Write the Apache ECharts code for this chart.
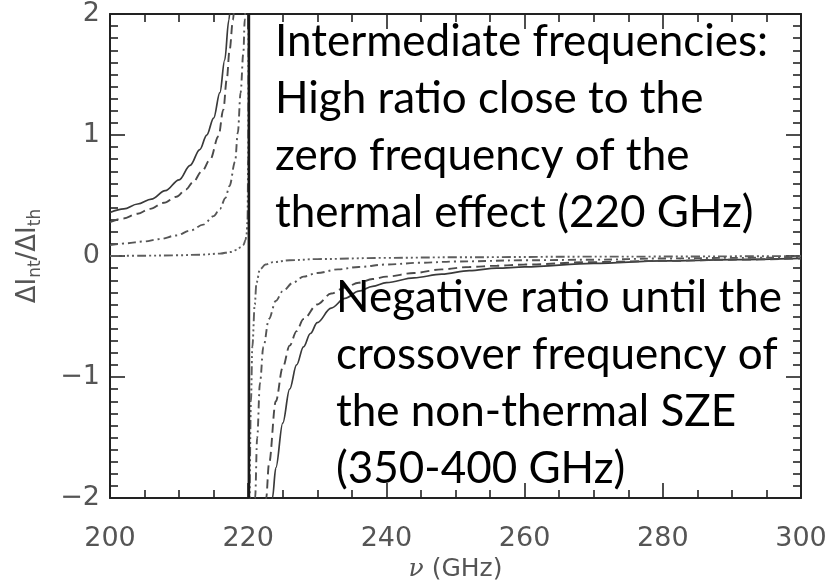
<!DOCTYPE html>
<html>
<head>
<meta charset="utf-8">
<script src="https://cdn.jsdelivr.net/npm/echarts@6/dist/echarts.min.js"></script>
<style>
  html, body { margin: 0; padding: 0; background: #fff; }
  #chart { width: 830px; height: 587px; }
</style>
</head>
<body>
<div id="chart"></div>
<script>
// Frequency (GHz) and ratio ΔI_nt/ΔI_th for four non-thermal models,
// split into the branch below and the branch above the thermal null.
const nuSolidLow   = [200, 202, 204, 206, 208, 210, 211.6, 213, 214, 215, 215.9, 216.6, 217.2, 217.5];
const ratSolidLow  = [0.36, 0.39, 0.43, 0.47, 0.54, 0.63, 0.75, 0.88, 1.0, 1.14, 1.35, 1.62, 1.95, 2.15];
const nuSolidHigh  = [223.3, 223.5, 224, 225, 226, 227, 228, 229, 230, 232, 234, 236, 238, 240, 244, 248, 252, 256, 260, 270, 280, 290, 300];
const ratSolidHigh = [-2.15, -2.0, -1.75, -1.38, -1.10, -0.90, -0.75, -0.64, -0.55, -0.43, -0.35, -0.29, -0.25, -0.22, -0.18, -0.15, -0.12, -0.10, -0.09, -0.06, -0.04, -0.03, -0.02];

const nuDashLow    = [200, 201.9, 204, 205.8, 207.8, 209.6, 211, 212, 213.3, 214.5, 215.7, 216.4, 216.9, 217.3, 217.8, 218.0];
const ratDashLow   = [0.28, 0.31, 0.35, 0.39, 0.44, 0.49, 0.55, 0.61, 0.70, 0.80, 0.99, 1.21, 1.46, 1.70, 1.95, 2.1];
const nuDashHigh   = [222.4, 222.6, 223, 224, 225, 226, 227, 228, 230, 232, 234, 236, 238, 240, 244, 248, 252, 256, 260, 270, 280, 290, 300];
const ratDashHigh  = [-2.15, -2.0, -1.72, -1.20, -0.92, -0.74, -0.62, -0.52, -0.40, -0.31, -0.26, -0.22, -0.19, -0.17, -0.14, -0.11, -0.09, -0.08, -0.07, -0.05, -0.04, -0.03, -0.02];

const nuDotDashLow   = [200, 202.4, 204.8, 207.2, 209.6, 211.6, 213.5, 215, 215.9, 216.7, 217.3, 218.1, 218.5, 218.9, 219.3, 219.5, 219.6];
const ratDotDashLow  = [0.09, 0.105, 0.12, 0.14, 0.17, 0.21, 0.26, 0.33, 0.39, 0.48, 0.58, 0.78, 1.02, 1.35, 1.68, 1.95, 2.1];
const nuDotDashHigh  = [220.9, 221.0, 221.3, 221.7, 222.2, 223, 224, 225, 226.5, 228, 230, 233, 236, 240, 245, 250, 260, 270, 280, 290, 300];
const ratDotDashHigh = [-2.15, -2.0, -1.5, -1.05, -0.75, -0.52, -0.37, -0.29, -0.22, -0.17, -0.14, -0.11, -0.09, -0.07, -0.055, -0.045, -0.035, -0.03, -0.02, -0.015, -0.01];

const nuTripleLow    = [200, 205, 209.6, 213, 215.9, 217.5, 218.3, 219.0, 219.3, 219.6, 219.75, 219.9, 220.0, 220.05];
const ratTripleLow   = [0.0, 0.003, 0.006, 0.011, 0.02, 0.034, 0.05, 0.075, 0.09, 0.13, 0.17, 0.3, 0.8, 2.1];
const nuTripleHigh   = [220.2, 220.4, 220.6, 220.95, 221.2, 221.7, 222.5, 223.6, 226, 230, 240, 250, 270, 300];
const ratTripleHigh  = [-2.1, -1.2, -0.75, -0.4, -0.22, -0.11, -0.07, -0.05, -0.035, -0.025, -0.015, -0.01, -0.005, 0.0];

// Thermal null where every ratio diverges
const nuNull = 220.1;
const ratNullRange = [-2, 2];

// Axis ranges and ticks
const xMin = 200, xMax = 300, xStep = 20;
const yMin = -2, yMax = 2, yStep = 1;

const annoTop = ['Intermediate frequencies:', 'High ratio close to the', 'zero frequency of the', 'thermal effect (220 GHz)'];
const annoBottom = ['Negative ratio until the', 'crossover frequency of', 'the non-thermal SZE', '(350-400 GHz)'];

function pairs(xs, ys) { return xs.map((x, i) => [x, ys[i]]); }

const tickFont = { fontFamily: 'DejaVu Sans', fontSize: 27, color: '#555' };
const frameLine = { show: true, onZero: false, lineStyle: { color: '#222', width: 2 } };
const majorTick = { show: true, inside: true, length: 15, lineStyle: { color: '#222', width: 1.6 } };
const minorTickX = { show: true, splitNumber: 4, length: 8, lineStyle: { color: '#222', width: 1.6 } };
const minorTickY = { show: true, splitNumber: 10, length: 8, lineStyle: { color: '#222', width: 1.6 } };

function curve(name, xs, ys, type, color, width) {
  return {
    name, type: 'line', data: pairs(xs, ys), showSymbol: false, symbol: 'none',
    smooth: 0.35, smoothMonotone: 'x', clip: true,
    lineStyle: { color, width, type }, z: 3
  };
}

const solid = 'solid';
const dashed = [9, 5];
const dotDash = [8, 4, 2, 4];
const tripleDot = [9, 3, 2, 3, 2, 3, 2, 3];

const chart = echarts.init(document.getElementById('chart'), null, { renderer: 'canvas' });
chart.setOption({
  animation: false,
  backgroundColor: '#fff',
  grid: { left: 110, right: 29, top: 14, bottom: 84, containLabel: false },
  xAxis: [
    {
      type: 'value', position: 'bottom', min: xMin, max: xMax, interval: xStep,
      axisLine: frameLine, axisTick: majorTick, minorTick: minorTickX,
      splitLine: { show: false }, minorSplitLine: { show: false },
      axisLabel: Object.assign({ margin: 27 }, tickFont),
      name: '{i|ν} (GHz)', nameLocation: 'middle', nameGap: 58,
      nameTextStyle: {
        fontFamily: 'DejaVu Sans', fontSize: 25, color: '#555',
        rich: { i: { fontFamily: 'DejaVu Serif', fontStyle: 'italic', fontSize: 25, color: '#555' } }
      }
    },
    {
      type: 'value', position: 'top', min: xMin, max: xMax, interval: xStep,
      axisLine: frameLine, axisTick: majorTick, minorTick: minorTickX,
      splitLine: { show: false }, axisLabel: { show: false }
    }
  ],
  yAxis: [
    {
      type: 'value', position: 'left', min: yMin, max: yMax, interval: yStep,
      axisLine: frameLine, axisTick: majorTick, minorTick: minorTickY,
      splitLine: { show: false }, minorSplitLine: { show: false },
      axisLabel: Object.assign({ margin: 10, formatter: v => String(v).replace('-', '\u2212') }, tickFont),
      name: '{a|ΔI}{s|nt}{a|/ΔI}{s|th}', nameLocation: 'middle', nameRotate: 90, nameGap: 66,
      nameTextStyle: {
        color: '#555',
        rich: {
          a: { fontFamily: 'DejaVu Sans', fontSize: 26, color: '#555', lineHeight: 32 },
          s: { fontFamily: 'DejaVu Sans', fontSize: 17, color: '#555', lineHeight: 16, verticalAlign: 'bottom' }
        }
      }
    },
    {
      type: 'value', position: 'right', min: yMin, max: yMax, interval: yStep,
      axisLine: frameLine, axisTick: majorTick, minorTick: minorTickY,
      splitLine: { show: false }, axisLabel: { show: false }
    }
  ],
  series: [
    curve('solid-low', nuSolidLow, ratSolidLow, solid, '#3a3a3a', 1.7),
    curve('solid-high', nuSolidHigh, ratSolidHigh, solid, '#3a3a3a', 1.7),
    curve('dashed-low', nuDashLow, ratDashLow, dashed, '#4a4a4a', 1.9),
    curve('dashed-high', nuDashHigh, ratDashHigh, dashed, '#4a4a4a', 1.9),
    curve('dotdash-low', nuDotDashLow, ratDotDashLow, dotDash, '#555', 1.9),
    curve('dotdash-high', nuDotDashHigh, ratDotDashHigh, dotDash, '#555', 1.9),
    curve('triple-low', nuTripleLow, ratTripleLow, tripleDot, '#5e5e5e', 1.9),
    curve('triple-high', nuTripleHigh, ratTripleHigh, tripleDot, '#5e5e5e', 1.9),
    {
      name: 'null', type: 'line', symbol: 'none', clip: true,
      data: ratNullRange.map(r => [nuNull, r]),
      lineStyle: { color: '#1a1a1a', width: 2.6 }, z: 4
    }
  ],
  graphic: [
    {
      type: 'text', left: 275, top: 13, z: 10,
      style: { text: annoTop.join('\n'), fontFamily: 'Lato', fontSize: 44, lineHeight: 57, fill: '#000' }
    },
    {
      type: 'text', left: 336, top: 269, z: 10,
      style: { text: annoBottom.join('\n'), fontFamily: 'Lato', fontSize: 44, lineHeight: 57, fill: '#000' }
    }
  ]
});
</script>
</body>
</html>
